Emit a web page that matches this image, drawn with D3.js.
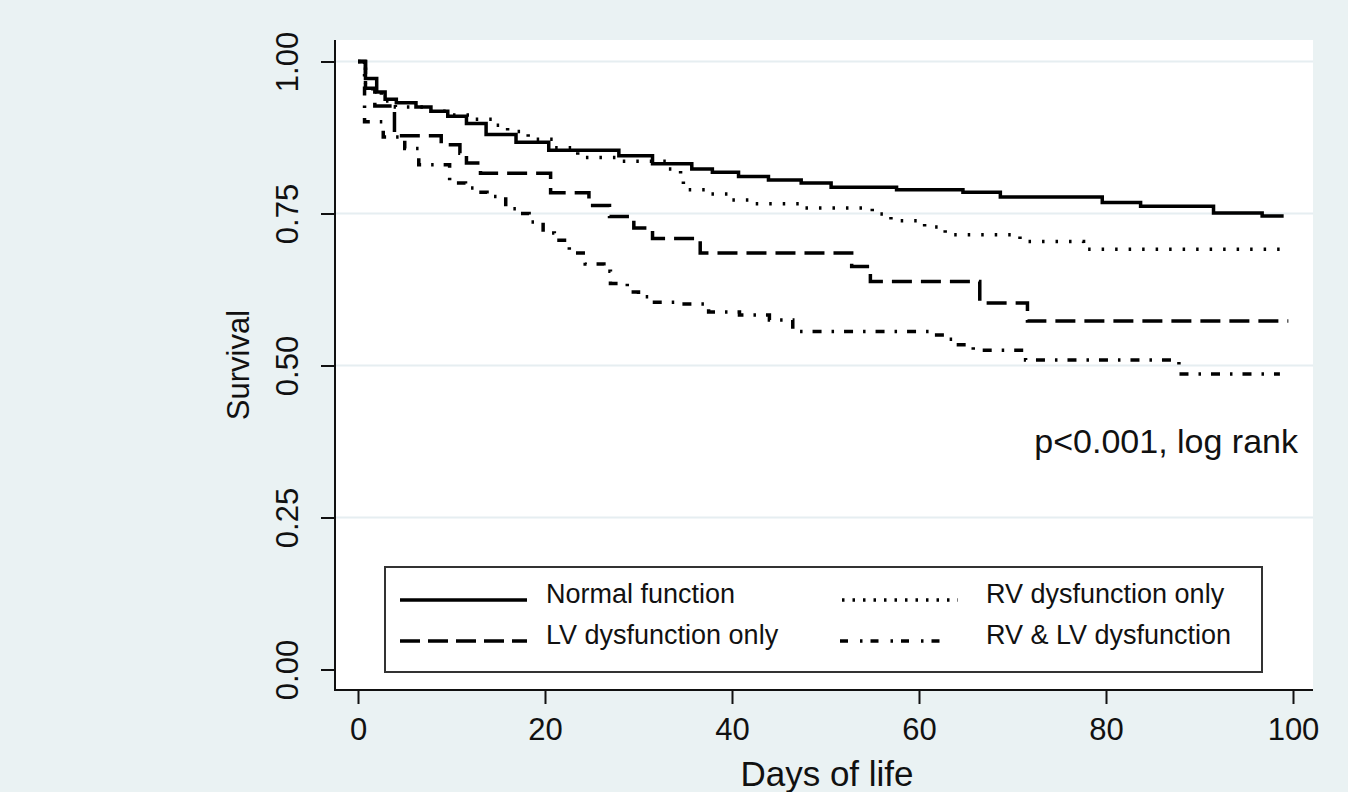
<!DOCTYPE html>
<html>
<head>
<meta charset="utf-8">
<script src="https://cdn.jsdelivr.net/npm/d3@7"></script>
<style>
  html, body { margin: 0; padding: 0; background: #eaf2f3; }
  svg { display: block; font-family: "Liberation Sans", Arial, sans-serif; }
</style>
</head>
<body>
<div id="chart-container"></div>
<script>
// Kaplan-Meier step data (day, survival)
const normalDays = [0, 0.8, 2, 2.9, 4.1, 6.2, 7.8, 9.6, 11.6, 13.7, 16.9, 20.4, 27.9, 31.5, 35.7, 37.9, 40.7, 43.9, 47.4, 50.6, 57.6, 64.7, 68.7, 79.6, 83.7, 91.5, 96.7, 99];
const normalSurv = [1, 0.972, 0.95, 0.938, 0.932, 0.925, 0.918, 0.91, 0.898, 0.88, 0.867, 0.854, 0.845, 0.832, 0.823, 0.818, 0.811, 0.805, 0.8, 0.793, 0.789, 0.785, 0.777, 0.768, 0.762, 0.751, 0.746, 0.746];

const rvDays = [0, 0.8, 2.5, 4, 7, 10, 12.5, 14.8, 16, 18.2, 21, 23.5, 27.8, 33, 34.5, 34.8, 37.5, 39.7, 41.8, 47.7, 55, 57, 60.6, 62.8, 70.8, 77.6, 99.5];
const rvSurv = [1, 0.955, 0.935, 0.925, 0.918, 0.912, 0.905, 0.895, 0.885, 0.872, 0.858, 0.842, 0.836, 0.823, 0.811, 0.789, 0.782, 0.772, 0.766, 0.759, 0.749, 0.738, 0.728, 0.715, 0.704, 0.691, 0.691];

const lvDays = [0, 0.8, 1.8, 3.9, 8.9, 10.9, 11.6, 13.1, 20.6, 24.7, 26.9, 29.5, 31.5, 36.6, 52.8, 54.8, 66.5, 71.6, 99.5];
const lvSurv = [1, 0.956, 0.927, 0.878, 0.863, 0.849, 0.833, 0.816, 0.784, 0.763, 0.745, 0.726, 0.709, 0.685, 0.663, 0.638, 0.603, 0.573, 0.573];

const bothDays = [0, 0.7, 2.7, 5, 6.5, 9.8, 11.5, 12.8, 13.8, 15.8, 17, 18.3, 19.8, 21, 22.6, 24.3, 26.3, 27, 28.8, 30, 31.5, 34.5, 37.5, 40.8, 44, 46.5, 61.2, 63.1, 64, 65.8, 71.4, 87.8, 98.6];
const bothSurv = [1, 0.901, 0.876, 0.857, 0.83, 0.8, 0.792, 0.785, 0.778, 0.758, 0.75, 0.736, 0.718, 0.706, 0.685, 0.667, 0.655, 0.635, 0.621, 0.613, 0.604, 0.601, 0.588, 0.583, 0.575, 0.556, 0.55, 0.543, 0.534, 0.525, 0.509, 0.486, 0.486];

const groupNames = ["Normal function", "RV dysfunction only", "LV dysfunction only", "RV & LV dysfunction"];
const yTicks = [0, 0.25, 0.5, 0.75, 1];
const xTicks = [0, 20, 40, 60, 80, 100];

const width = 1348, height = 792;
const plot = { left: 335, right: 1313, top: 40, bottom: 690 };

const svg = d3.select("#chart-container")
  .append("svg")
  .attr("width", width)
  .attr("height", height);

svg.append("rect").attr("width", width).attr("height", height).attr("fill", "#eaf2f3");
svg.append("rect")
  .attr("x", plot.left).attr("y", plot.top)
  .attr("width", plot.right - plot.left).attr("height", plot.bottom - plot.top)
  .attr("fill", "#fff");

const x = d3.scaleLinear().domain([0, 100]).range([358, 1293]);
const y = d3.scaleLinear().domain([0, 1]).range([669.5, 61.5]);

// grid lines
svg.append("g")
  .selectAll("line")
  .data(yTicks.filter((d) => d > 0))
  .join("line")
  .attr("x1", plot.left).attr("x2", plot.right)
  .attr("y1", (d) => y(d)).attr("y2", (d) => y(d))
  .attr("stroke", "#e6eef1")
  .attr("stroke-width", 2);

// curves
const line = d3.line()
  .x((d) => x(d[0]))
  .y((d) => y(d[1]))
  .curve(d3.curveStepAfter);

const series = [
  { days: bothDays, surv: bothSurv, dash: "9,10,2.5,10", w: 3.5 },
  { days: lvDays, surv: lvSurv, dash: "20,9", w: 3.5 },
  { days: rvDays, surv: rvSurv, dash: "2.5,11", w: 3.5 },
  { days: normalDays, surv: normalSurv, dash: null, w: 3.5 }
];

series.forEach((s) => {
  svg.append("path")
    .datum(d3.zip(s.days, s.surv))
    .attr("fill", "none")
    .attr("stroke", "#000")
    .attr("stroke-width", s.w)
    .attr("stroke-dasharray", s.dash)
    .attr("d", line);
});

// axes
const yAxis = svg.append("g")
  .attr("transform", `translate(${plot.left},0)`)
  .call(d3.axisLeft(y).tickValues(yTicks).tickFormat(d3.format(".2f")).tickSize(14).tickSizeOuter(0));
yAxis.select(".domain").remove();
yAxis.selectAll(".tick line").attr("stroke", "#111").attr("stroke-width", 2);
yAxis.selectAll(".tick text")
  .attr("x", null).attr("dy", null)
  .attr("text-anchor", "middle")
  .attr("transform", "translate(-37,0) rotate(-90)")
  .attr("fill", "#111")
  .style("font-size", "31px");

const xAxis = svg.append("g")
  .attr("transform", `translate(0,${plot.bottom})`)
  .call(d3.axisBottom(x).tickValues(xTicks).tickSize(14).tickSizeOuter(0));
xAxis.select(".domain").remove();
xAxis.selectAll(".tick line").attr("stroke", "#111").attr("stroke-width", 2);
xAxis.selectAll(".tick text")
  .attr("y", 50).attr("dy", null)
  .attr("fill", "#111")
  .style("font-size", "31px");

svg.append("line")
  .attr("x1", plot.left).attr("x2", plot.left)
  .attr("y1", plot.top).attr("y2", plot.bottom + 1)
  .attr("stroke", "#111").attr("stroke-width", 2);
svg.append("line")
  .attr("x1", plot.left - 1).attr("x2", plot.right)
  .attr("y1", plot.bottom).attr("y2", plot.bottom)
  .attr("stroke", "#111").attr("stroke-width", 2);

// axis titles
svg.append("text")
  .attr("x", 827).attr("y", 786)
  .attr("text-anchor", "middle")
  .attr("fill", "#111")
  .style("font-size", "35px")
  .text("Days of life");

svg.append("text")
  .attr("transform", "translate(249,365) rotate(-90)")
  .attr("text-anchor", "middle")
  .attr("fill", "#111")
  .style("font-size", "31px")
  .text("Survival");

// annotation
svg.append("text")
  .attr("x", 1298).attr("y", 453)
  .attr("text-anchor", "end")
  .attr("fill", "#111")
  .style("font-size", "34px")
  .text("p<0.001, log rank");

// legend
svg.append("rect")
  .attr("x", 385).attr("y", 567)
  .attr("width", 877).attr("height", 105)
  .attr("fill", "#fff")
  .attr("stroke", "#333")
  .attr("stroke-width", 2);

const legendItems = [
  { name: groupNames[0], dash: null, w: 3.5, x1: 400, x2: 527, tx: 546, row: 0 },
  { name: groupNames[1], dash: "2.5,8", w: 3.5, x1: 842, x2: 958, tx: 986, row: 0 },
  { name: groupNames[2], dash: "20,8", w: 3.5, x1: 400, x2: 527, tx: 546, row: 1 },
  { name: groupNames[3], dash: "8,12,2.5,8", w: 3.5, x1: 840, x2: 950, tx: 986, row: 1 }
];
const rowBase = [603, 644];

const lg = svg.append("g")
  .selectAll("g")
  .data(legendItems)
  .join("g");

lg.append("line")
  .attr("x1", (d) => d.x1).attr("x2", (d) => d.x2)
  .attr("y1", (d) => rowBase[d.row] - 3).attr("y2", (d) => rowBase[d.row] - 3)
  .attr("stroke", "#000")
  .attr("stroke-width", (d) => d.w)
  .attr("stroke-dasharray", (d) => d.dash);

lg.append("text")
  .attr("x", (d) => d.tx).attr("y", (d) => rowBase[d.row])
  .attr("fill", "#111")
  .style("font-size", "27px")
  .text((d) => d.name);
</script>
</body>
</html>
